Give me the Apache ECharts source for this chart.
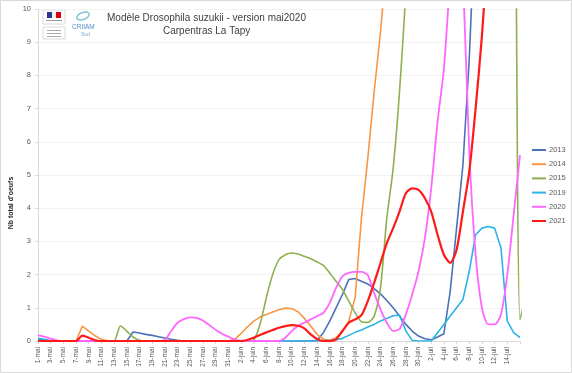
<!DOCTYPE html>
<html><head><meta charset="utf-8">
<script src="https://cdn.jsdelivr.net/npm/echarts@6/dist/echarts.min.js"></script>
<style>html,body{margin:0;padding:0;background:#fff}#c{width:572px;height:373px}</style>
</head><body><div id="c"></div>
<script>
const categories = [
"1-mai","2-mai","3-mai","4-mai","5-mai","6-mai","7-mai","8-mai","9-mai","10-mai","11-mai","12-mai","13-mai","14-mai","15-mai","16-mai","17-mai","18-mai","19-mai","20-mai","21-mai","22-mai","23-mai","24-mai","25-mai","26-mai","27-mai","28-mai","29-mai","30-mai","31-mai",
"1-juin","2-juin","3-juin","4-juin","5-juin","6-juin","7-juin","8-juin","9-juin","10-juin","11-juin","12-juin","13-juin","14-juin","15-juin","16-juin","17-juin","18-juin","19-juin","20-juin","21-juin","22-juin","23-juin","24-juin","25-juin","26-juin","27-juin","28-juin","29-juin","30-juin",
"1-juil","2-juil","3-juil","4-juil","5-juil","6-juil","7-juil","8-juil","9-juil","10-juil","11-juil","12-juil","13-juil","14-juil","15-juil","16-juil"];

const yTicks = [0,1,2,3,4,5,6,7,8,9,10];
const seriesNames = ["2013","2014","2015","2019","2020","2021"];

const s2013 = [0.05,0.03,0,0,0,0,0,0,0,0,0,0,0,0,0,0.27,0.24,0.2,0.17,0.13,0.09,0.05,0.02,0,0,0,0,0,0,0,0,
0,0,0,0,0,0,0,0,0,0,0,0,0,0.02,0.25,0.6,1.0,1.4,1.85,1.88,1.8,1.72,1.58,1.42,1.22,1.0,0.75,0.5,0.3,0.15,
0.07,0.04,0.12,0.22,1.5,3.4,5.3,8.5,13,17,21,25,29,33,37,41];

const s2014 = [0,0,0,0,0,0,0,0.45,0.3,0.16,0.05,0.01,0,0,0,0,0,0,0,0,0,0,0,0,0,0,0,0,0,0,0,
0.05,0.22,0.42,0.6,0.72,0.8,0.87,0.94,0.99,0.98,0.88,0.68,0.45,0.2,0.06,0.02,0.1,0.28,0.6,1.3,3.7,5.5,7.5,9.3,11.5,14,17,20,23,26,
29,32,35,38,41,44,47,50,53,56,59,62,65,68,71,74];

const s2015 = [0,0,0,0,0,0,0,0,0,0,0,0,0,0.45,0.3,0.12,0.02,0,0,0,0,0,0,0,0,0,0,0,0,0,0,
0,0,0,0.03,0.5,1.3,2.0,2.45,2.6,2.65,2.62,2.55,2.48,2.38,2.28,2.05,1.8,1.55,1.2,0.85,0.58,0.56,0.75,1.6,3.7,5.2,7.5,10.5,14,17,
20,22,24,26,28,30,32,34,35,36,37,38,38,33,23,0.63,1.44];

const s2019 = [0.08,0.05,0.01,0,0,0,0,0,0,0,0,0,0,0,0,0,0,0,0,0,0,0,0,0,0,0,0,0,0,0,0,
0,0,0,0,0,0,0,0,0,0,0,0,0,0,0.01,0.02,0.04,0.08,0.17,0.26,0.33,0.42,0.5,0.6,0.68,0.76,0.78,0.3,0.02,0,
0,0,0.25,0.5,0.75,1.0,1.25,2.1,3.2,3.4,3.45,3.4,2.8,0.6,0.25,0.1];

const s2020 = [0.18,0.13,0.07,0.02,0,0,0,0,0,0,0,0,0,0,0,0,0,0,0,0,0.03,0.3,0.55,0.66,0.71,0.7,0.62,0.48,0.34,0.22,0.13,
0.04,0.01,0,0,0,0,0,0,0.1,0.3,0.45,0.55,0.65,0.75,0.85,1.15,1.6,1.95,2.05,2.08,2.08,1.98,1.45,0.95,0.55,0.3,0.36,0.8,1.4,2.1,
3.1,4.6,6.6,8.2,11,14,11,5.7,2.6,1.0,0.5,0.5,0.8,2.0,3.8,5.6];

const s2021 = [0,0,0,0,0,0,0,0.16,0.1,0.02,0,0,0,0,0,0,0,0,0,0,0,0,0,0,0,0,0,0,0,0,0,
0,0,0.03,0.1,0.18,0.26,0.33,0.4,0.45,0.48,0.46,0.38,0.2,0.06,0,0,0.05,0.3,0.55,0.65,0.78,1.2,1.75,2.35,2.95,3.4,3.9,4.45,4.6,4.55,
4.3,3.9,3.2,2.6,2.35,2.75,3.9,5.1,7.0,9.2,12,15,18,21,24,27];

const seriesData = [s2013,s2014,s2015,s2019,s2020,s2021];
const colors = ["#4a72b8","#f79646","#8eb04f","#2db4e3","#ff66ff","#ff1a1a"];
const widths = [1.6,1.6,1.6,1.6,1.8,2.2];

const chart = echarts.init(document.getElementById('c'), null, {renderer:'canvas'});
const FONT = "Liberation Sans";
chart.setOption({
  animation:false,
  backgroundColor:'#ffffff',
  grid:{left:38,right:52,top:9,bottom:32,containLabel:false},
  legend:{
    orient:'vertical', left:527, top:141, icon:'rect', itemWidth:14, itemHeight:2,
    itemGap:6.2, data:seriesNames,
    textStyle:{fontFamily:FONT,fontSize:7.5,color:'#595959',lineHeight:8,padding:[0,0,0,-2]}
  },
  xAxis:{
    type:'category', data:categories, boundaryGap:false,
    axisLine:{lineStyle:{color:'#d9d9d9',width:1}},
    axisTick:{show:true,interval:1,length:3,lineStyle:{color:'#d9d9d9'}},
    axisLabel:{rotate:90,fontFamily:FONT,fontSize:6.5,color:'#595959',margin:6,
      interval:function(i){return i%2===0 && i<=74;}},
    splitLine:{show:false}
  },
  yAxis:{
    type:'value', min:yTicks[0], max:yTicks[yTicks.length-1], interval:1,
    axisLine:{show:true,lineStyle:{color:'#d9d9d9'}},
    axisTick:{show:true,length:3,lineStyle:{color:'#d9d9d9'}},
    axisLabel:{fontFamily:FONT,fontSize:7.5,color:'#595959',margin:7},
    splitLine:{show:true,lineStyle:{color:'#f2f2f2',width:1}}
  },
  series: seriesNames.map(function(n,k){
    return {name:n,type:'line',data:seriesData[k],showSymbol:false,symbol:'none',
      clip:true, smooth:(k===5||k===4||k===2)?0.25:false,
      lineStyle:{color:colors[k],width:widths[k]},itemStyle:{color:colors[k]}};
  }),
  graphic:[
    {type:'rect',shape:{x:0.5,y:0.5,width:571,height:372},style:{fill:'none',stroke:'#d9d9d9',lineWidth:1},silent:true},
    {type:'text',left:107,top:13,style:{text:'Modèle Drosophila suzukii - version mai2020',font:'10px "Liberation Sans"',fill:'#404040'}},
    {type:'text',left:163,top:26,style:{text:'Carpentras La Tapy',font:'10px "Liberation Sans"',fill:'#404040'}},
    {type:'text',x:11,y:203,rotation:Math.PI/2,style:{text:"Nb total d'oeufs",font:'bold 7px "Liberation Sans"',fill:'#262626',align:'center',verticalAlign:'middle'}},
    {type:'rect',shape:{x:43,y:10,width:22,height:14},style:{fill:'#fff',stroke:'#cfcfcf',lineWidth:0.8}},
    {type:'rect',shape:{x:47,y:12,width:5,height:6},style:{fill:'#2b3a8f'}},
    {type:'rect',shape:{x:52,y:12,width:4,height:6},style:{fill:'#f4f4f4'}},
    {type:'rect',shape:{x:56,y:12,width:5,height:6},style:{fill:'#e1000f'}},
    {type:'rect',shape:{x:46,y:20,width:16,height:1},style:{fill:'#999'}},
    {type:'rect',shape:{x:43,y:27,width:22,height:12},style:{fill:'#fff',stroke:'#cfcfcf',lineWidth:0.8}},
    {type:'rect',shape:{x:47,y:30,width:14,height:1},style:{fill:'#aaa'}},
    {type:'rect',shape:{x:47,y:33,width:14,height:1},style:{fill:'#aaa'}},
    {type:'rect',shape:{x:47,y:36,width:14,height:1},style:{fill:'#aaa'}},
    {type:'ellipse',shape:{cx:83,cy:16,rx:6.5,ry:3.5},rotation:0.35,originX:83,originY:16,style:{fill:'none',stroke:'#7fc6d2',lineWidth:1.5}},
    {type:'text',left:72,top:24,style:{text:'CRIIAM',font:'6.5px "Liberation Sans"',fill:'#5a8fc9'}},
    {type:'text',left:81,top:32,style:{text:'Sud',font:'5px "Liberation Sans"',fill:'#7fa8d6'}}
  ]
});
</script></body></html>
